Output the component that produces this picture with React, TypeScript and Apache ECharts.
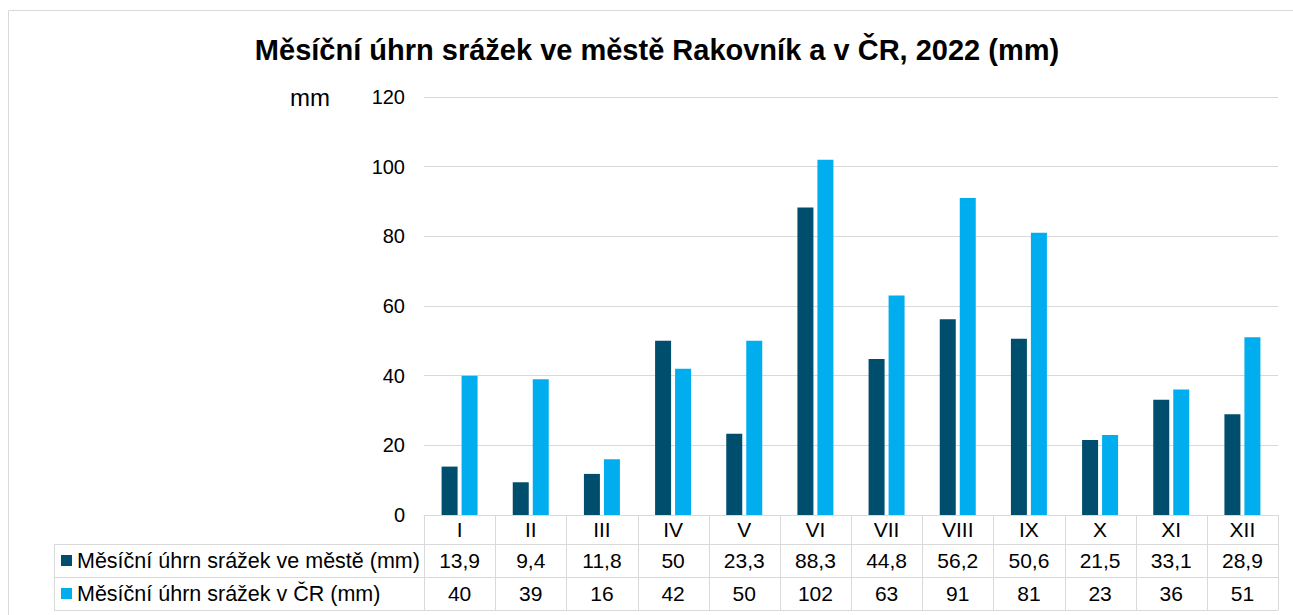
import { useEffect, useRef } from "react";
import * as echarts from "echarts";

const titleText = "Měsíční úhrn srážek ve městě Rakovník a v ČR, 2022 (mm)";
const unitLabel = "mm";
const months = ["I", "II", "III", "IV", "V", "VI", "VII", "VIII", "IX", "X", "XI", "XII"];
const seriesNames = ["Měsíční úhrn srážek ve městě (mm)", "Měsíční úhrn srážek v ČR (mm)"];
const cityValues = [13.9, 9.4, 11.8, 50, 23.3, 88.3, 44.8, 56.2, 50.6, 21.5, 33.1, 28.9];
const czValues = [40, 39, 16, 42, 50, 102, 63, 91, 81, 23, 36, 51];
const yMax = 120;
const yInterval = 20;

const colors = ["#004E6E", "#00AEEF"];
const gridColor = "#D9D9D9";
const FONT = "'Liberation Sans', Arial, sans-serif";

const fmt = (v: number) => String(v).replace(".", ",");

export default function App() {
  const ref = useRef<HTMLDivElement>(null);

  useEffect(() => {
    if (!ref.current) return;
    const chart = echarts.init(ref.current, undefined, { renderer: "svg" });
    chart.setOption({
      animation: false,
      backgroundColor: "#fff",
      textStyle: { fontFamily: FONT },
      grid: { left: 424, right: 15, top: 97, bottom: 100, containLabel: false },
      xAxis: {
        type: "category",
        data: months,
        axisLine: { show: true, lineStyle: { color: gridColor, width: 1 } },
        axisTick: { show: false },
        axisLabel: { fontSize: 21, color: "#000", margin: 4, fontFamily: FONT },
        splitLine: { show: false },
      },
      yAxis: {
        type: "value",
        min: 0,
        max: yMax,
        interval: yInterval,
        axisLine: { show: false },
        axisTick: { show: false },
        axisLabel: { fontSize: 20, color: "#000", margin: 19, fontFamily: FONT },
        splitLine: { lineStyle: { color: gridColor, width: 1 } },
      },
      series: [
        {
          name: seriesNames[0],
          type: "bar",
          data: cityValues,
          barWidth: 16,
          barGap: "25%",
          itemStyle: { color: colors[0] },
        },
        {
          name: seriesNames[1],
          type: "bar",
          data: czValues,
          barWidth: 16,
          barGap: "25%",
          itemStyle: { color: colors[1] },
        },
      ],
    });

    const c0 = chart.convertToPixel({ xAxisIndex: 0 }, months[0]) as number;
    const c1 = chart.convertToPixel({ xAxisIndex: 0 }, months[1]) as number;
    const band = c1 - c0;
    const tableLeft = c0 - band / 2;
    const tableRight = tableLeft + band * months.length;
    const yZero = chart.convertToPixel({ yAxisIndex: 0 }, 0) as number;
    const rowTop1 = yZero + 29;
    const rowTop2 = rowTop1 + 33;
    const rowBottom = rowTop2 + 33;
    const labelLeft = 54;
    const lineStyle = { stroke: gridColor, lineWidth: 1 };

    const elements: any[] = [];
    elements.push({
      type: "rect",
      shape: { x: 8.5, y: 10.5, width: 1300, height: 700 },
      style: { fill: "none", stroke: gridColor, lineWidth: 1 },
      silent: true,
    });
    elements.push({
      type: "text",
      x: 657,
      y: 50,
      style: {
        text: titleText,
        fontSize: 29,
        fontWeight: "bold",
        fontFamily: FONT,
        fill: "#000",
        align: "center",
        verticalAlign: "middle",
      },
    });
    elements.push({
      type: "text",
      x: 290,
      y: 97,
      style: { text: unitLabel, fontSize: 24, fontFamily: FONT, fill: "#000", verticalAlign: "middle", align: "left" },
    });
    [rowTop1, rowTop2, rowBottom].forEach((y) => {
      elements.push({
        type: "line",
        shape: { x1: labelLeft, y1: Math.round(y) + 0.5, x2: tableRight, y2: Math.round(y) + 0.5 },
        style: lineStyle,
      });
    });
    elements.push({
      type: "line",
      shape: { x1: labelLeft + 0.5, y1: rowTop1, x2: labelLeft + 0.5, y2: rowBottom },
      style: lineStyle,
    });
    for (let k = 0; k <= months.length; k++) {
      const x = Math.round(tableLeft + k * band) + 0.5;
      elements.push({
        type: "line",
        shape: { x1: x, y1: yZero, x2: x, y2: rowBottom },
        style: lineStyle,
      });
    }
    const rows = [
      { name: seriesNames[0], values: cityValues, color: colors[0], top: rowTop1 },
      { name: seriesNames[1], values: czValues, color: colors[1], top: rowTop2 },
    ];
    rows.forEach((r) => {
      const cy = r.top + 16.5;
      elements.push({
        type: "rect",
        shape: { x: 61, y: cy - 5.5, width: 11, height: 11 },
        style: { fill: r.color },
      });
      elements.push({
        type: "text",
        x: 77,
        y: cy,
        style: { text: r.name, fontSize: 21.5, fontFamily: FONT, fill: "#000", verticalAlign: "middle", align: "left" },
      });
      r.values.forEach((v, i) => {
        const cx = chart.convertToPixel({ xAxisIndex: 0 }, months[i]) as number;
        elements.push({
          type: "text",
          x: cx,
          y: cy,
          style: { text: fmt(v), fontSize: 21, fontFamily: FONT, fill: "#000", verticalAlign: "middle", align: "center" },
        });
      });
    });

    chart.setOption({ graphic: { elements } });

    return () => chart.dispose();
  }, []);

  return (
    <div
      ref={ref}
      style={{ position: "fixed", left: 0, top: 0, width: 1293, height: 615 }}
    />
  );
}
